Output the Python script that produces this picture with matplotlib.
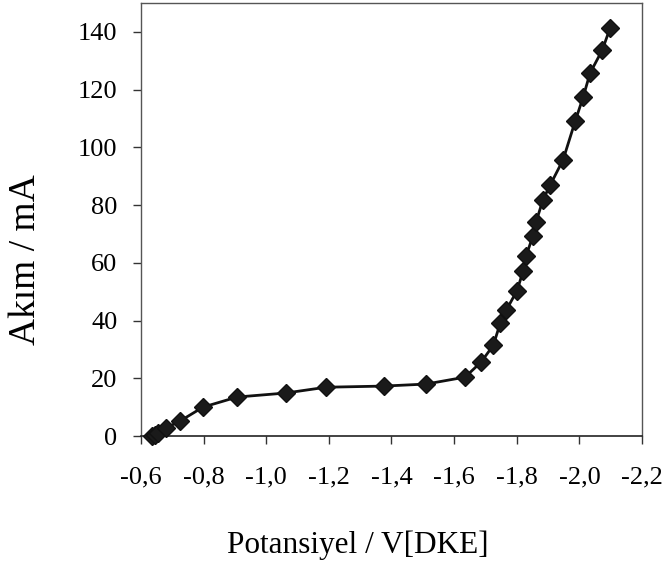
import matplotlib
matplotlib.use("Agg")
import matplotlib.pyplot as plt
from matplotlib.ticker import FuncFormatter

# Cathodic polarization curve: potential (V vs. SCE) against current (mA)
potential = [-0.635, -0.645, -0.655, -0.680, -0.725, -0.798, -0.907, -1.063,
             -1.191, -1.376, -1.511, -1.635, -1.686, -1.725, -1.747, -1.766,
             -1.801, -1.820, -1.830, -1.852, -1.862, -1.884, -1.907, -1.948,
             -1.987, -2.012, -2.034, -2.073, -2.098]
current = [0.0, 0.5, 1.2, 2.8, 5.2, 10.0, 13.5, 14.9,
           16.9, 17.3, 18.0, 20.4, 25.6, 31.4, 39.0, 43.5,
           50.4, 57.0, 62.5, 69.4, 74.3, 81.9, 87.0, 95.7,
           109.2, 117.4, 125.7, 133.7, 141.3]

x_ticks = [-0.6, -0.8, -1.0, -1.2, -1.4, -1.6, -1.8, -2.0, -2.2]
y_ticks = [0, 20, 40, 60, 80, 100, 120, 140]

plt.rcParams['font.family'] = ['Liberation Serif', 'DejaVu Serif']

fig = plt.figure(figsize=(6.64, 5.61), dpi=100)
ax = fig.add_axes([0.2123, 0.2228, 0.7546, 0.7718])

ax.plot(potential, current, color='#111111', linewidth=2.0,
        marker='D', markersize=9.5, markerfacecolor='#1a1a1a',
        markeredgecolor='#111111', clip_on=False, zorder=3)

ax.set_xlim(-0.6, -2.2)
ax.set_ylim(0, 150)
ax.set_xticks(x_ticks)
ax.set_yticks(y_ticks)

comma = FuncFormatter(lambda v, pos: f"{v:.1f}".replace('.', ','))
ax.xaxis.set_major_formatter(comma)

ax.tick_params(axis='both', direction='out', length=6, width=1,
               color='#333333', labelsize=19)
ax.tick_params(axis='x', pad=16)
ax.tick_params(axis='y', pad=11)

for side in ('top', 'right', 'left'):
    ax.spines[side].set_color('#555555')
    ax.spines[side].set_linewidth(1.0)
ax.spines['bottom'].set_color('#222222')
ax.spines['bottom'].set_linewidth(1.2)

fig.text(0.539, 0.0143, 'Potansiyel / V[DKE]', fontsize=22.5,
         ha='center', va='baseline')
fig.text(0.039, 0.538, 'Akım / mA', fontsize=27, rotation=90,
         ha='center', va='center')

fig.savefig('out.png', dpi=100, facecolor='white')
